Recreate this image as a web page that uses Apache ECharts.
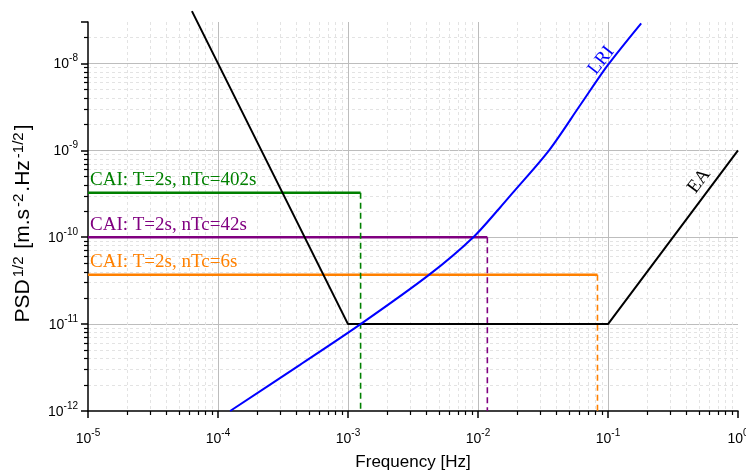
<!DOCTYPE html>
<html>
<head>
<meta charset="utf-8">
<script src="https://cdn.jsdelivr.net/npm/echarts@6/dist/echarts.min.js"></script>
<style>
  html, body { margin: 0; padding: 0; background: #ffffff; }
  #chart { width: 746px; height: 470px; }
</style>
</head>
<body>
<div id="chart"></div>
<script>
// Frequency range and PSD range of the plot
const fMin = 1e-5, fMax = 1;
const psdMin = 1e-12, psdMax = 3e-8;

// Electrostatic accelerometer (EA) noise curve
const eaFreq = [6.3e-5, 1e-3, 1e-1, 1];
const eaPsd  = [4e-8, 1e-11, 1e-11, 1e-9];

// Laser ranging interferometer (LRI) noise curve
const lriFreq = [1.24e-4, 4.27e-4, 1.25e-3, 4.27e-3, 9.2e-3, 1.48e-2, 1.87e-2, 3.52e-2, 6.1e-2, 9.93e-2, 1.8e-1];
const lriPsd  = [1e-12, 3.4e-12, 1e-11, 3.76e-11, 1e-10, 2.2e-10, 3.3e-10, 1e-9, 3.3e-9, 9.5e-9, 2.9e-8];

// Cold atom interferometer (CAI) configurations: noise level and cut-off frequency
const caiNames  = ['CAI: T=2s, nTc=402s', 'CAI: T=2s, nTc=42s', 'CAI: T=2s, nTc=6s'];
const caiLevel  = [3.25e-10, 1e-10, 3.7e-11];
const caiCutoff = [1.25e-3, 1.18e-2, 8.3e-2];
const caiColors = ['#008000', '#800080', '#ff8000'];

const serif = '"Liberation Serif", "Times New Roman", serif';
const sans = '"Liberation Sans", Arial, sans-serif';

function zip(xs, ys) { return xs.map((x, i) => [x, ys[i]]); }

function powLabel(v) {
  const lg = Math.log10(v);
  const e = Math.round(lg);
  if (Math.abs(lg - e) > 1e-6) return '';
  return '{b|10}{s|' + e + '}';
}
const tickRich = {
  b: { fontSize: 14, fontFamily: sans, color: '#000', lineHeight: 16, verticalAlign: 'bottom' },
  s: { fontSize: 10, fontFamily: sans, color: '#000', lineHeight: 10, verticalAlign: 'bottom', padding: [0, 0, 8, 0] }
};

const majorGrid = { show: true, showMaxLine: false, showMinLine: false, lineStyle: { color: '#bdbdbd', width: 1 } };
const minorGrid = { show: true, lineStyle: { color: '#e3e3e3', width: 1, type: [3, 3] } };

const series = [];

// CAI horizontal levels, labelled at their left end
caiNames.forEach((name, i) => {
  const data = zip([fMin, caiCutoff[i]], [caiLevel[i], caiLevel[i]]);
  data[0] = {
    value: data[0], symbol: 'circle', symbolSize: 0,
    label: {
      show: true, formatter: name, position: 'top', align: 'left', distance: 3, offset: [2, 0],
      color: caiColors[i], fontFamily: serif, fontSize: 19
    }
  };
  series.push({
    type: 'line', name: name, data: data, symbol: 'none', z: 3,
    lineStyle: { color: caiColors[i], width: 2.6 }, itemStyle: { color: caiColors[i] }
  });
});

// CAI cut-off frequencies (dashed drops)
caiNames.forEach((name, i) => {
  series.push({
    type: 'line', name: name + ' cut-off', symbol: 'none', z: 3,
    data: zip([caiCutoff[i], caiCutoff[i]], [caiLevel[i], psdMin]),
    lineStyle: { color: caiColors[i], width: 1.6, type: [6, 4] }
  });
});

// EA curve
const eaData = zip(eaFreq, eaPsd);
eaData[eaData.length - 1] = {
  value: eaData[eaData.length - 1], symbol: 'circle', symbolSize: 0,
  label: {
    show: true, formatter: 'EA', position: 'inside', rotate: 53, offset: [-48, -12.5],
    color: '#000', fontFamily: serif, fontSize: 19
  }
};
series.push({
  type: 'line', name: 'EA', data: eaData, symbol: 'none', clip: false, z: 4,
  lineStyle: { color: '#000', width: 2 }, itemStyle: { color: '#000' }
});

// LRI curve
const lriData = zip(lriFreq, lriPsd);
lriData[9] = {
  value: lriData[9], symbol: 'circle', symbolSize: 0,
  label: {
    show: true, formatter: 'LRI', position: 'inside', rotate: 52, offset: [0, -8],
    color: '#0000ff', fontFamily: serif, fontSize: 19
  }
};
series.push({
  type: 'line', name: 'LRI', data: lriData, symbol: 'none', smooth: 0.3, z: 5,
  lineStyle: { color: '#0000ff', width: 2 }, itemStyle: { color: '#0000ff' }
});

const supStyle = { fontFamily: sans, fontSize: 15, color: '#000', verticalAlign: 'bottom', padding: [0, 2, 10, 2] };

const chart = echarts.init(document.getElementById('chart'), null, { renderer: 'canvas' });
chart.setOption({
  animation: false,
  backgroundColor: '#ffffff',
  grid: { left: 88, right: 8, top: 22, bottom: 59, containLabel: false, outerBoundsMode: 'none' },
  xAxis: {
    type: 'log', logBase: 10, min: fMin, max: fMax,
    name: 'Frequency [Hz]', nameLocation: 'middle', nameGap: 43,
    nameTextStyle: { fontFamily: sans, fontSize: 17, color: '#000' },
    axisLine: { show: true, onZero: false, lineStyle: { color: '#000', width: 1.5 } },
    axisTick: { show: true, inside: false, length: 7, lineStyle: { color: '#000', width: 1.5 } },
    minorTick: { show: true, splitNumber: 9, length: 4, lineStyle: { color: '#000', width: 1.2 } },
    axisLabel: { formatter: powLabel, rich: tickRich, margin: 19 },
    splitLine: majorGrid,
    minorSplitLine: minorGrid
  },
  yAxis: {
    type: 'log', logBase: 10, min: psdMin, max: psdMax,
    name: 'PSD{s|1/2} [m.s{s|-2}.Hz{s|-1/2}]', nameLocation: 'middle', nameGap: 52, nameRotate: 90,
    nameTextStyle: {
      fontFamily: sans, fontSize: 21, color: '#000', padding: [0, 14, 0, 0],
      rich: { s: supStyle }
    },
    axisLine: { show: true, onZero: false, lineStyle: { color: '#000', width: 1.5 } },
    axisTick: { show: true, inside: false, length: 7, lineStyle: { color: '#000', width: 1.5 } },
    minorTick: { show: true, splitNumber: 9, length: 4, lineStyle: { color: '#000', width: 1.2 } },
    axisLabel: { formatter: powLabel, rich: tickRich, margin: 10 },
    splitLine: majorGrid,
    minorSplitLine: minorGrid
  },
  series: series
});
</script>
</body>
</html>
